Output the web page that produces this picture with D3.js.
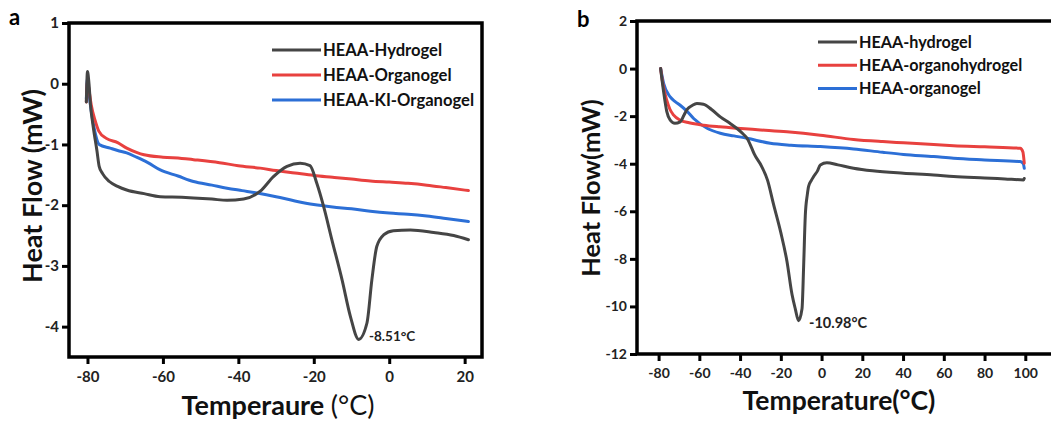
<!DOCTYPE html>
<html>
<head>
<meta charset="utf-8">
<script src="https://cdn.jsdelivr.net/npm/d3@7"></script>
<style>
  body { margin: 0; background: #fff; }
  svg { font-family: Lato, "Open Sans", sans-serif; }
</style>
</head>
<body>
<div id="chart"></div>
<script>
// ---- data ----
// panel a
const aHydroT = [-80.3, -80, -79.6, -79.2, -78.5, -77.5, -76.9, -76, -74.2, -72, -69.6, -65, -60.7, -55, -51.9, -47, -43, -38.6, -34.2, -30.7, -27.1, -23.6, -21, -19.2, -17.4, -15.2, -12.5, -10.3, -8.1, -5.9, -4.6, -3.3, -1.5, 1.1, 5.6, 11.8, 17.1, 21];
const aHydroQ = [-0.3, 0.2, 0.0, -0.35, -0.7, -1.1, -1.36, -1.48, -1.61, -1.69, -1.75, -1.81, -1.86, -1.87, -1.88, -1.9, -1.92, -1.9, -1.77, -1.53, -1.36, -1.31, -1.35, -1.64, -2.02, -2.57, -3.23, -3.83, -4.21, -3.94, -3.23, -2.68, -2.49, -2.42, -2.41, -2.45, -2.5, -2.57];
const aOrganoT = [-80.3, -80, -79.6, -79, -78, -77, -75, -72, -69.6, -67, -65, -60, -55, -51.9, -45, -40, -34.2, -30, -25, -20, -15, -10, -5, 0, 5, 10, 15, 21];
const aOrganoQ = [-0.3, 0.05, -0.1, -0.35, -0.6, -0.78, -0.9, -0.97, -1.06, -1.13, -1.17, -1.21, -1.23, -1.25, -1.3, -1.35, -1.39, -1.43, -1.47, -1.51, -1.54, -1.57, -1.6, -1.62, -1.64, -1.67, -1.71, -1.76];
const aKIT = [-80.3, -80, -79.6, -79, -78, -76.9, -74, -72, -69.6, -67, -64, -60.7, -56, -51.9, -47, -43, -39, -35, -30, -25, -20, -15, -10, -5, 0, 5, 10, 15, 21];
const aKIQ = [-0.25, 0.1, -0.15, -0.45, -0.8, -1.0, -1.06, -1.1, -1.14, -1.21, -1.3, -1.42, -1.52, -1.61, -1.67, -1.72, -1.76, -1.8, -1.86, -1.93, -1.99, -2.03, -2.06, -2.1, -2.13, -2.15, -2.18, -2.22, -2.27];
const aXTicks = [-80, -60, -40, -20, 0, 20];
const aYTicks = [1, 0, -1, -2, -3, -4];
const aNames = ["HEAA-Hydrogel", "HEAA-Organogel", "HEAA-KI-Organogel"];

// panel b
const bHydroT = [-79, -77.5, -76, -74.3, -72, -69.4, -67.5, -66, -63.5, -61.2, -58, -54, -49.7, -45, -41.5, -38.5, -36.6, -34.5, -33, -29.5, -26.5, -23.6, -20, -17, -14.5, -12.9, -11.3, -9.6, -8.8, -8, -7, -6.4, -5, -3.9, -2, -0.6, 2.6, 8, 15.7, 25, 40.2, 55, 64.8, 80, 90, 99.2, 99.5];
const bHydroQ = [0, -1.0, -1.8, -2.17, -2.3, -2.24, -1.95, -1.72, -1.55, -1.47, -1.5, -1.72, -2.03, -2.3, -2.52, -2.75, -2.93, -3.3, -3.6, -4.1, -4.7, -5.7, -6.9, -8.1, -9.5, -10.1, -10.6, -10.1, -8.3, -6.2, -5.3, -4.96, -4.7, -4.54, -4.3, -4.05, -3.96, -4.05, -4.19, -4.3, -4.4, -4.47, -4.54, -4.6, -4.64, -4.68, -4.62];
const bOrganoHydroT = [-79, -78, -76, -74.5, -72.6, -69.4, -65, -57.9, -50, -41.5, -30, -17, -0.6, 15.7, 30, 40.2, 55, 64.8, 80, 97.5, 98.8, 99.5];
const bOrganoHydroQ = [0, -0.6, -1.33, -1.7, -1.96, -2.17, -2.28, -2.38, -2.45, -2.51, -2.58, -2.66, -2.8, -2.98, -3.07, -3.12, -3.19, -3.24, -3.29, -3.35, -3.5, -3.98];
const bOrganoT = [-79, -77.5, -74.3, -72, -69.4, -66, -62.8, -56.2, -49.7, -43, -36.6, -25.2, -15, -0.6, 15.7, 30, 40.2, 55, 64.8, 80, 97.5, 99, 99.5];
const bOrganoQ = [0, -0.63, -1.19, -1.38, -1.54, -1.8, -2.1, -2.51, -2.72, -2.83, -2.93, -3.14, -3.22, -3.28, -3.38, -3.52, -3.61, -3.7, -3.77, -3.84, -3.91, -4.0, -4.19];
const bXTicks = [-80, -60, -40, -20, 0, 20, 40, 60, 80, 100];
const bYTicks = [2, 0, -2, -4, -6, -8, -10, -12];
const bNames = ["HEAA-hydrogel", "HEAA-organohydrogel", "HEAA-organogel"];

const colors = ["#454545", "#e8413f", "#2c6fd6"];

// ---- drawing ----
const svg = d3.select("#chart").append("svg")
    .attr("width", 1051)
    .attr("height", 425);

function zip(ts, qs) {
    return ts.map(function(t, i) { return {t: t, q: qs[i]}; });
}

function drawPanel(p) {
    const g = svg.append("g");

    const x = d3.scaleLinear().domain(p.xDomain).range([p.left, p.right]);
    const y = d3.scaleLinear().domain(p.yDomain).range([p.bottom, p.top]);

    // frame
    g.append("rect")
        .attr("x", p.left).attr("y", p.top)
        .attr("width", p.right - p.left).attr("height", p.bottom - p.top)
        .attr("fill", "none").attr("stroke", "#000").attr("stroke-width", 3.5);

    // axes
    const fmt = function(d) { return String(d); };
    const xAxis = g.append("g")
        .attr("transform", "translate(0," + p.bottom + ")")
        .call(d3.axisBottom(x).tickValues(p.xTicks).tickSize(7).tickPadding(4).tickFormat(fmt));
    const yAxis = g.append("g")
        .attr("transform", "translate(" + p.left + ",0)")
        .call(d3.axisLeft(y).tickValues(p.yTicks).tickSize(7).tickPadding(3).tickFormat(fmt));
    [xAxis, yAxis].forEach(function(ax) {
        ax.select(".domain").remove();
        ax.selectAll(".tick line").attr("stroke", "#000").attr("stroke-width", 3);
        ax.selectAll(".tick text")
            .attr("fill", "#222")
            .style("font-size", p.tickFont + "px")
            .style("font-weight", 700)
            .style("font-family", "Lato, sans-serif");
    });
    xAxis.selectAll(".tick text").attr("dy", "0.95em");

    // curves
    const line = d3.line()
        .x(function(d) { return x(d.t); })
        .y(function(d) { return y(d.q); })
        .curve(d3.curveMonotoneX);

    // blue first, then red, then gray on top
    [2, 1, 0].forEach(function(i) {
        g.append("path")
            .datum(p.series[i])
            .attr("fill", "none")
            .attr("stroke", colors[i])
            .attr("stroke-width", 3)
            .attr("stroke-linejoin", "round")
            .attr("stroke-linecap", "round")
            .attr("d", line);
    });

    // legend
    p.names.forEach(function(name, i) {
        const ly = p.legY + i * p.legGap;
        g.append("line")
            .attr("x1", p.legX).attr("x2", p.legX + p.legLen)
            .attr("y1", ly).attr("y2", ly)
            .attr("stroke", colors[i]).attr("stroke-width", 3);
        g.append("text")
            .attr("x", p.legX + p.legLen + 2).attr("y", ly)
            .attr("dy", "0.36em")
            .style("font-size", p.legFont + "px")
            .style("font-weight", 700)
            .attr("fill", "#111")
            .text(name);
    });

    // peak annotation
    g.append("text")
        .attr("x", p.noteX).attr("y", p.noteY)
        .style("font-size", p.noteFont + "px")
        .style("font-weight", 700)
        .attr("fill", "#222")
        .text(p.note);

    // axis titles
    const xt = g.append("text")
        .attr("x", p.xTitleX).attr("y", p.xTitleY)
        .attr("text-anchor", "middle")
        .style("font-size", p.xTitleFont + "px")
        .style("font-weight", 700)
        .attr("fill", "#111");
    xt.append("tspan").text(p.xTitle);
    xt.append("tspan").style("font-weight", p.unitWeight).text(p.xUnit);

    g.append("text")
        .attr("transform", "translate(" + p.yTitleX + "," + p.yTitleY + ") rotate(-90)")
        .attr("text-anchor", "middle")
        .style("font-size", p.yTitleFont + "px")
        .style("font-weight", 700)
        .attr("fill", "#111")
        .text(p.yTitle);

    // panel letter
    g.append("text")
        .attr("x", p.letterX).attr("y", p.letterY)
        .style("font-size", "22px")
        .style("font-weight", 700)
        .attr("fill", "#000")
        .text(p.letter);
}

drawPanel({
    left: 69, right: 482, top: 23, bottom: 357,
    xDomain: [-84.9, 24.6], yDomain: [-4.5, 1],
    xTicks: aXTicks, yTicks: aYTicks, tickFont: 15,
    series: [zip(aHydroT, aHydroQ), zip(aOrganoT, aOrganoQ), zip(aKIT, aKIQ)],
    names: aNames, legX: 272, legY: 50, legGap: 25, legLen: 49, legFont: 16.6,
    note: "-8.51°C", noteX: 369, noteY: 341, noteFont: 13.5,
    xTitle: "Temperaure ", xUnit: "(°C)", unitWeight: 400, xTitleX: 278, xTitleY: 415, xTitleFont: 27,
    yTitle: "Heat Flow (mW)", yTitleX: 42, yTitleY: 186, yTitleFont: 27,
    letter: "a", letterX: 9, letterY: 25
});

drawPanel({
    left: 637, right: 1056, top: 21, bottom: 354,
    xDomain: [-90.6, -90.6 + 419 / 2.0372], yDomain: [-12, 2],
    xTicks: bXTicks, yTicks: bYTicks, tickFont: 14,
    series: [zip(bHydroT, bHydroQ), zip(bOrganoHydroT, bOrganoHydroQ), zip(bOrganoT, bOrganoQ)],
    names: bNames, legX: 818, legY: 42, legGap: 23.3, legLen: 39, legFont: 16.2,
    note: "-10.98°C", noteX: 809, noteY: 328, noteFont: 14.5,
    xTitle: "Temperature", xUnit: "(°C)", unitWeight: 700, xTitleX: 839, xTitleY: 410, xTitleFont: 26.5,
    yTitle: "Heat Flow(mW)", yTitleX: 600, yTitleY: 188, yTitleFont: 25.5,
    letter: "b", letterX: 577, letterY: 27
});
</script>
</body>
</html>
